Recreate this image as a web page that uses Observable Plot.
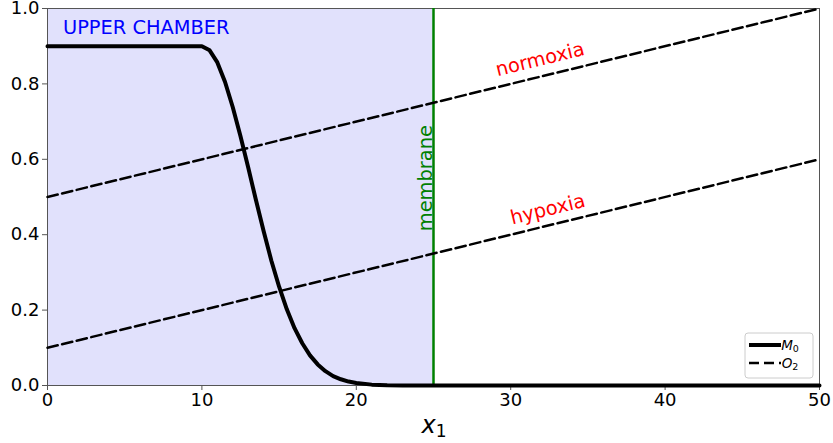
<!DOCTYPE html>
<html>
<head>
<meta charset="utf-8">
<script src="https://cdn.jsdelivr.net/npm/d3@7"></script>
<script src="https://cdn.jsdelivr.net/npm/@observablehq/plot@0.6"></script>
<style>
  html, body { margin: 0; padding: 0; background: white; }
  svg { display: block; overflow: visible; }
</style>
</head>
<body>
<div id="chart"></div>
<script>
// ---- data ----
const xTicks = [0, 10, 20, 30, 40, 50];
const yTicks = [0, 0.2, 0.4, 0.6, 0.8, 1.0];

// M0 curve
const m0X = [0, 1, 2, 3, 4, 5, 6, 7, 8, 9, 10, 10.5, 11, 11.5, 12, 12.5, 13, 13.5, 14, 14.5, 15, 15.5, 16, 16.5, 17, 17.5, 18, 18.5, 19, 19.5, 20, 21, 22, 23, 24, 25, 30, 35, 40, 45, 50];
const m0Y = [0.9, 0.9, 0.9, 0.9, 0.9, 0.9, 0.9, 0.9, 0.9, 0.9, 0.9, 0.889, 0.857, 0.805, 0.738, 0.661, 0.578, 0.492, 0.409, 0.331, 0.262, 0.202, 0.152, 0.112, 0.080, 0.056, 0.038, 0.025, 0.0165, 0.0104, 0.0064, 0.0023, 0.0007, 0.0002, 0, 0, 0, 0, 0, 0, 0];

// O2 lines
const o2X = [0, 50];
const normoxiaY = [0.5, 1.0];
const hypoxiaY = [0.1, 0.6];

// chamber / membrane
const chamberX = [0, 25];
const membraneX = 25;

// labels
const labelNames = ["UPPER CHAMBER", "membrane", "normoxia", "hypoxia"];
const labelX = [1.0, 24.53, 31.9, 32.4];
const labelY = [0.95, 0.55, 0.865, 0.467];

// ---- build tables ----
const m0 = m0X.map((x, i) => ({x, y: m0Y[i]}));
const normoxia = o2X.map((x, i) => ({x, y: normoxiaY[i]}));
const hypoxia = o2X.map((x, i) => ({x, y: hypoxiaY[i]}));

const slopeAngle = -13.72;
const FONT = "DejaVu Sans, sans-serif";
const DASH = "10.5,4.5";

const chart = Plot.plot({
  width: 833,
  height: 443,
  marginLeft: 47,
  marginRight: 14,
  marginTop: 8,
  marginBottom: 58,
  style: {fontFamily: FONT, background: "white", color: "black", overflow: "visible"},
  x: {domain: [0, 50]},
  y: {domain: [0, 1]},
  marks: [
    Plot.rectY([{x1: chamberX[0], x2: chamberX[1]}], {x1: "x1", x2: "x2", y1: 0, y2: 1, fill: "#e1e1fc"}),
    Plot.frame({stroke: "#555", strokeWidth: 1}),
    Plot.axisX({ticks: xTicks, tickSize: 5, tickPadding: 3, fontSize: 18, stroke: "#555", fill: "black", label: null, tickFormat: d => String(d)}),
    Plot.axisY({ticks: yTicks, tickSize: 5, tickPadding: 3, fontSize: 18, stroke: "#555", fill: "black", label: null, tickFormat: d3.format(".1f")}),
    Plot.ruleX([membraneX], {stroke: "#008000", strokeWidth: 2.5}),
    Plot.line(normoxia, {x: "x", y: "y", stroke: "black", strokeWidth: 2.5, strokeDasharray: DASH}),
    Plot.line(hypoxia, {x: "x", y: "y", stroke: "black", strokeWidth: 2.5, strokeDasharray: DASH}),
    Plot.line(m0, {x: "x", y: "y", stroke: "black", strokeWidth: 4, curve: "linear"}),
    Plot.text([0], {x: labelX[0], y: labelY[0], text: () => labelNames[0], fill: "#0000ff", fontSize: 19.4, textAnchor: "start", lineAnchor: "middle"}),
    Plot.text([0], {x: labelX[1], y: labelY[1], text: () => labelNames[1], fill: "#008000", fontSize: 19.4, rotate: -90, lineAnchor: "middle"}),
    Plot.text([0], {x: labelX[2], y: labelY[2], text: () => labelNames[2], fill: "#ff0000", fontSize: 19.4, rotate: slopeAngle, lineAnchor: "middle"}),
    Plot.text([0], {x: labelX[3], y: labelY[3], text: () => labelNames[3], fill: "#ff0000", fontSize: 19.4, rotate: slopeAngle, lineAnchor: "middle"})
  ]
});

document.getElementById("chart").appendChild(chart);

// ---- x axis label with subscript ----
const svg = d3.select(chart);
const sx = chart.scale("x");
const xl = svg.append("text")
  .attr("x", sx.apply(25) + 1)
  .attr("y", 433)
  .attr("text-anchor", "middle")
  .attr("font-family", FONT)
  .attr("fill", "black");
xl.append("tspan").attr("font-size", 24).attr("font-style", "italic").text("x");
xl.append("tspan").attr("font-size", 17).attr("dy", 4).text("1");

// ---- legend ----
const lg = svg.append("g").attr("transform", "translate(745,333)");
lg.append("rect").attr("width", 68).attr("height", 45).attr("rx", 3)
  .attr("fill", "white").attr("fill-opacity", 0.8).attr("stroke", "#cccccc").attr("stroke-width", 1);
lg.append("line").attr("x1", 4).attr("x2", 36).attr("y1", 12).attr("y2", 12)
  .attr("stroke", "black").attr("stroke-width", 4);
lg.append("line").attr("x1", 4).attr("x2", 36).attr("y1", 30).attr("y2", 30)
  .attr("stroke", "black").attr("stroke-width", 2.5).attr("stroke-dasharray", "10,5");
const legendNames = [["M", "0"], ["O", "2"]];
legendNames.forEach((n, i) => {
  const t = lg.append("text").attr("x", 45).attr("y", 17 + i * 18)
    .attr("font-family", FONT).attr("fill", "black");
  t.append("tspan").attr("font-size", 13.5).attr("font-style", "italic").text(n[0]);
  t.append("tspan").attr("font-size", 9.5).attr("dy", 2).text(n[1]);
});
</script>
</body>
</html>
